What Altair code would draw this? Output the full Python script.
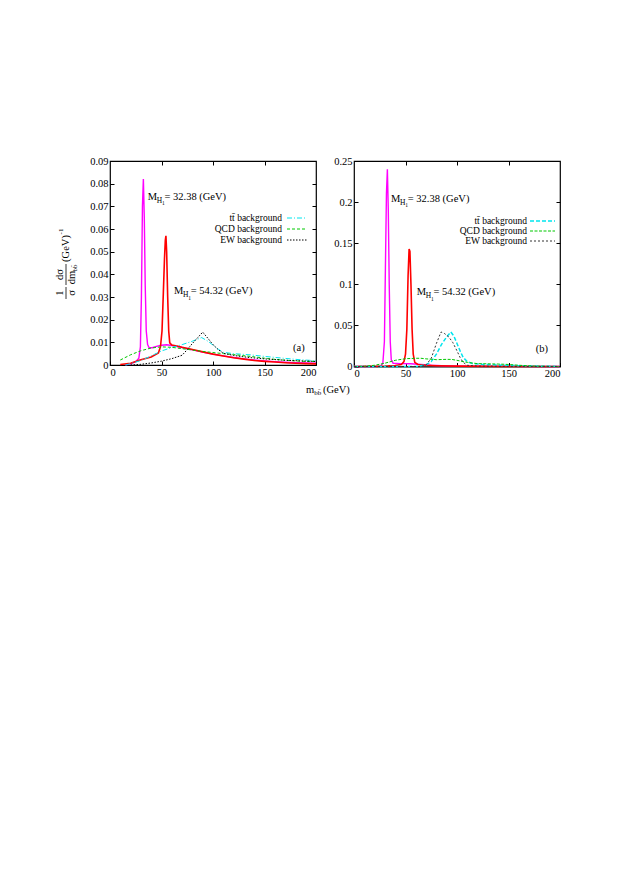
import altair as alt
import pandas as pd

FONT = "Liberation Serif"

# ---------------- panel (a) data ----------------
a_m32_x = [15, 20, 25, 28, 29.5, 30.5, 31.5, 32.4, 33.3, 34.2, 35.2, 36.5, 38, 41, 45, 50, 55, 60, 70, 80, 90, 100, 110, 120, 130, 140, 150, 160, 170, 180, 190, 200]
a_m32_y = [0.0001, 0.0005, 0.0015, 0.003, 0.008, 0.03, 0.07, 0.082, 0.065, 0.035, 0.015, 0.009, 0.0076, 0.0076, 0.0082, 0.0087, 0.0089, 0.0086, 0.0077, 0.0067, 0.0057, 0.0048, 0.004, 0.0033, 0.0027, 0.0022, 0.0018, 0.0015, 0.0012, 0.001, 0.0009, 0.0008]

a_m54_x = [10, 20, 30, 40, 47, 49, 50.5, 51.8, 52.9, 53.7, 54.3, 55, 56, 57, 58, 60, 65, 70, 80, 90, 100, 110, 120, 130, 140, 150, 160, 170, 180, 190, 200]
a_m54_y = [0.0002, 0.0008, 0.0023, 0.0035, 0.0053, 0.008, 0.015, 0.032, 0.047, 0.055, 0.057, 0.05, 0.03, 0.015, 0.0098, 0.0088, 0.0084, 0.0078, 0.0068, 0.0058, 0.0048, 0.004, 0.0032, 0.0026, 0.002, 0.0016, 0.0013, 0.001, 0.0008, 0.0006, 0.0005]

a_qcd_x = [10, 20, 30, 40, 50, 60, 70, 80, 90, 100, 110, 120, 130, 140, 150, 160, 170, 180, 190, 200]
a_qcd_y = [0.0022, 0.0045, 0.0063, 0.0075, 0.008, 0.0078, 0.0072, 0.0066, 0.006, 0.0055, 0.005, 0.0046, 0.0041, 0.0036, 0.003, 0.0025, 0.0021, 0.0018, 0.0016, 0.0015]

a_tt_x = [15, 20, 30, 40, 50, 60, 70, 80, 89, 95, 100, 105, 110, 120, 136, 150, 168, 185, 200]
a_tt_y = [0.0, 0.0006, 0.002, 0.004, 0.0062, 0.0077, 0.009, 0.0105, 0.0121, 0.0105, 0.0088, 0.007, 0.0056, 0.005, 0.0045, 0.0038, 0.003, 0.0023, 0.0019]

a_ew_x = [20, 30, 40, 50, 60, 70, 75, 80, 85, 90, 95, 100, 105, 110, 120, 135, 150, 170, 185, 200]
a_ew_y = [0.0, 0.0003, 0.0009, 0.0017, 0.0028, 0.0043, 0.0068, 0.0095, 0.012, 0.0145, 0.0118, 0.009, 0.0068, 0.0052, 0.0042, 0.0033, 0.0027, 0.0021, 0.0018, 0.0016]

# ---------------- panel (b) data ----------------
b_m32_x = [0, 20, 26, 28, 29.5, 30.5, 31.5, 32.4, 33.3, 34.2, 35.2, 36.2, 38, 45, 55, 65, 75, 90, 110, 150, 200]
b_m32_y = [0.0, 0.0, 0.0005, 0.004, 0.03, 0.12, 0.21, 0.24, 0.19, 0.1, 0.03, 0.008, 0.004, 0.0035, 0.0033, 0.0025, 0.0015, 0.0008, 0.0004, 0.0001, 0.0]

b_m54_x = [0, 30, 40, 46, 48.5, 50, 51.3, 52.5, 53.5, 54.3, 55.3, 56.4, 57.5, 59, 62, 70, 80, 100, 150, 200]
b_m54_y = [0.0, 0.0005, 0.0012, 0.0025, 0.006, 0.015, 0.045, 0.11, 0.143, 0.14, 0.1, 0.045, 0.015, 0.005, 0.0025, 0.0015, 0.001, 0.0005, 0.0001, 0.0]

b_qcd_x = [0, 10, 20, 30, 40, 50, 60, 65, 70, 80, 90, 95, 100, 110, 120, 140, 150, 160, 175, 190, 200]
b_qcd_y = [0.0, 0.0003, 0.0015, 0.004, 0.0075, 0.0095, 0.0100, 0.0100, 0.0093, 0.0083, 0.0087, 0.0086, 0.0075, 0.005, 0.0035, 0.003, 0.0025, 0.0015, 0.0005, 0.0001, 0.0]

b_tt_x = [0, 60, 70, 75, 80, 85, 90, 94, 97, 100, 103, 106, 110, 115, 125, 140, 160, 180, 200]
b_tt_y = [0.0, 0.0, 0.002, 0.006, 0.015, 0.027, 0.036, 0.042, 0.037, 0.028, 0.019, 0.011, 0.006, 0.0035, 0.0025, 0.0018, 0.001, 0.0004, 0.0001]

b_ew_x = [0, 65, 70, 75, 80, 84.5, 88, 92, 96, 100, 103, 106, 110, 120, 150, 200]
b_ew_y = [0.0, 0.0, 0.002, 0.01, 0.028, 0.042, 0.04, 0.036, 0.029, 0.019, 0.011, 0.005, 0.0015, 0.0005, 0.0001, 0.0]

# ---------------- ticks / texts ----------------
X_TICKS = [0, 50, 100, 150, 200]
X_TICKS_TOP = [50, 100, 150]
A_Y_TICKS = [0, 0.01, 0.02, 0.03, 0.04, 0.05, 0.06, 0.07, 0.08, 0.09]
B_Y_TICKS = [0, 0.05, 0.1, 0.15, 0.2, 0.25]

LEGEND_LABELS = ["t\u0074\u0304 background", "QCD background", "EW background"]

a_ann_x = [36.6, 62.1]
a_ann_y = [0.0743, 0.0325]
b_ann_x = [35.9, 60.9]
b_ann_y = [0.204, 0.0906]
ann_text = ["= 32.38 (GeV)", "= 54.32 (GeV)"]

W, H = 206, 204
C_MAG, C_RED, C_CYAN, C_GREEN, C_BLACK = "#ff00ff", "#ff0000", "#00e5ee", "#00c800", "#000000"


def axes(yticks):
    common = dict(domain=False, grid=False, tickSize=4, offset=-4, tickColor="black", tickWidth=1)
    lab = dict(labelFont=FONT, labelFontSize=10.5, labelColor="black", labelPadding=2)
    ax_b = alt.Axis(orient="bottom", values=X_TICKS, **common, **lab)
    ax_t = alt.Axis(orient="top", values=X_TICKS_TOP, labels=False, **common)
    ax_l = alt.Axis(orient="left", values=yticks, format="~g", **common, **lab)
    ax_r = alt.Axis(orient="right", values=yticks[1:-1], labels=False, **common)
    return ax_b, ax_t, ax_l, ax_r


def make_panel(series, ydom, yticks, ann_x, ann_y, tag, tag_xy, leg):
    xs = alt.Scale(domain=[0, 200], nice=False, zero=False)
    ys = alt.Scale(domain=ydom, nice=False, zero=False)
    ax_b, ax_t, ax_l, ax_r = axes(yticks)
    layers = []
    for i, (sx, sy, color, width, dash) in enumerate(series):
        if i == 0:
            xa, ya = ax_b, ax_l
        elif i == 1:
            xa, ya = ax_t, ax_r
        else:
            xa, ya = None, None
        kw = dict(color=color, strokeWidth=width)
        if dash:
            kw["strokeDash"] = dash
        layers.append(
            alt.Chart(pd.DataFrame({"x": sx, "y": sy})).mark_line(**kw).encode(
                x=alt.X("x:Q", scale=xs, axis=xa, title=None),
                y=alt.Y("y:Q", scale=ys, axis=ya, title=None),
            )
        )
    # signal annotations  M_{H_1}= ...
    adf = pd.DataFrame({"x": ann_x, "y": ann_y, "t": ann_text})
    enc = dict(x=alt.X("x:Q", scale=xs, axis=None), y=alt.Y("y:Q", scale=ys, axis=None))
    tk = dict(font=FONT, color="black", align="left", baseline="middle")
    layers.append(alt.Chart(adf).mark_text(fontSize=10.5, **tk).encode(text=alt.value("M"), **enc))
    layers.append(alt.Chart(adf).mark_text(fontSize=7.5, dx=9, dy=4, **tk).encode(text=alt.value("H"), **enc))
    layers.append(alt.Chart(adf).mark_text(fontSize=5.5, dx=14.2, dy=6.5, **tk).encode(text=alt.value("1"), **enc))
    layers.append(alt.Chart(adf).mark_text(fontSize=10.5, dx=16.8, **tk).encode(text="t:N", **enc))
    # panel tag
    tdf = pd.DataFrame({"x": [tag_xy[0]], "y": [tag_xy[1]], "t": [tag]})
    layers.append(alt.Chart(tdf).mark_text(fontSize=10.5, font=FONT, color="black", baseline="middle").encode(
        text="t:N", x=alt.X("x:Q", scale=xs, axis=None), y=alt.Y("y:Q", scale=ys, axis=None)))
    # legend
    tx, lx1, lx2, rows, styles = leg
    one = pd.DataFrame({"k": [0]})
    for lab, ry, (col, wd, ds) in zip(LEGEND_LABELS, rows, styles):
        layers.append(alt.Chart(one).mark_text(font=FONT, fontSize=9.5, color="black", align="right", baseline="middle").encode(
            x=alt.value(tx), y=alt.value(ry), text=alt.value(lab)))
        layers.append(alt.Chart(one).mark_rule(color=col, strokeWidth=wd, strokeDash=ds).encode(
            x=alt.value(lx1), x2=alt.value(lx2), y=alt.value(ry)))
    return layers


series_a = [
    (a_m32_x, a_m32_y, C_MAG, 1.4, None),
    (a_m54_x, a_m54_y, C_RED, 1.6, None),
    (a_tt_x, a_tt_y, C_CYAN, 1.0, [5, 2, 1, 2]),
    (a_qcd_x, a_qcd_y, C_GREEN, 1.0, [3, 2]),
    (a_ew_x, a_ew_y, C_BLACK, 1.0, [1.5, 1.5]),
]
series_b = [
    (b_m32_x, b_m32_y, C_MAG, 1.4, None),
    (b_m54_x, b_m54_y, C_RED, 1.6, None),
    (b_tt_x, b_tt_y, C_CYAN, 1.5, [4, 2]),
    (b_qcd_x, b_qcd_y, C_GREEN, 1.0, [3, 1.5]),
    (b_ew_x, b_ew_y, "#333333", 1.0, [2, 2]),
]

leg_a = (172, 177, 197, [57, 68, 79],
         [(C_CYAN, 1.0, [5, 2, 1, 2]), (C_GREEN, 1.0, [3, 2]), (C_BLACK, 1.0, [1.5, 1.5])])
leg_b = (173, 176, 201, [60, 70, 80],
         [(C_CYAN, 1.5, [4, 2]), (C_GREEN, 1.0, [3, 1.5]), ("#333333", 1.0, [2, 2])])

layers_a = make_panel(series_a, [0, 0.09], A_Y_TICKS, a_ann_x, a_ann_y, "(a)", (183.3, 0.0074), leg_a)
layers_b = make_panel(series_b, [0, 0.25], B_Y_TICKS, b_ann_x, b_ann_y, "(b)", (182.5, 0.0213), leg_b)

# y-axis title (fraction form) for panel (a), drawn as text pieces
one = pd.DataFrame({"k": [0]})
rt = dict(font=FONT, color="black", angle=270, align="center", baseline="middle")
ytitle = [
    ("1", -50, 132, 10.5), ("\u03c3", -38.5, 132, 10.5),
    ("d\u03c3", -50, 113.5, 10.5), ("dm", -38.5, 116.6, 10.5), ("bb\u0304", -35.5, 106.9, 7),
    ("(GeV)", -44, 87.5, 10.5), ("-1", -49.5, 70.5, 7),
]
for txt, px, py, fs in ytitle:
    layers_a.append(alt.Chart(one).mark_text(fontSize=fs, **rt).encode(
        x=alt.value(px), y=alt.value(py), text=alt.value(txt)))
for y1, y2 in [(126, 138), (103, 124)]:
    layers_a.append(alt.Chart(one).mark_rule(color="black", strokeWidth=0.8).encode(
        x=alt.value(-44), y=alt.value(y1), y2=alt.value(y2)))

# x-axis title  m_{b b-bar} (GeV)
xt = dict(font=FONT, color="black", align="left", baseline="middle")
for txt, px, py, fs in [("m", 196, 229, 10.5), ("bb\u0304", 204.2, 232, 7), ("(GeV)", 213, 229, 10.5)]:
    layers_a.append(alt.Chart(one).mark_text(fontSize=fs, **xt).encode(
        x=alt.value(px), y=alt.value(py), text=alt.value(txt)))

panel_a = alt.layer(*layers_a).resolve_axis(x="independent", y="independent").properties(width=W, height=H)
panel_b = alt.layer(*layers_b).resolve_axis(x="independent", y="independent").properties(width=W, height=H + 1.5)

chart = alt.hconcat(panel_a, panel_b, spacing=38, bounds="flush").properties(
    padding={"left": 46, "top": 147, "right": 5, "bottom": 5},
    background="white",
).configure_view(stroke="black", strokeWidth=1.2)

chart.save("out.html", embed_options={"renderer": "svg", "actions": False})
